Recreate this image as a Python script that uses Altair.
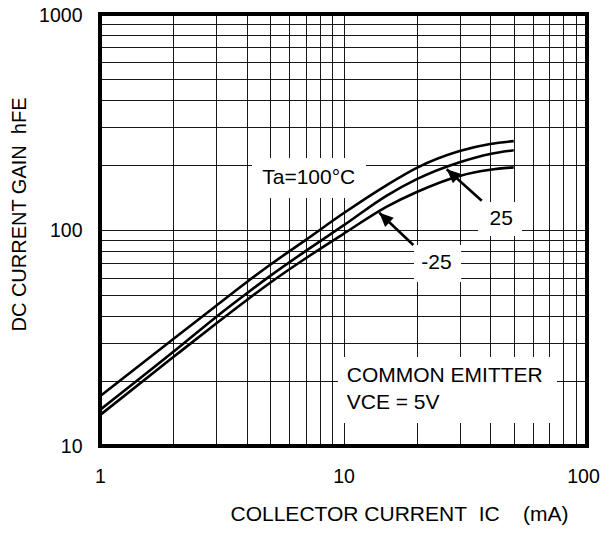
import math
import altair as alt
import pandas as pd

# ---- data ----
ic = [1, 2, 3, 4, 5, 7, 10, 15, 20, 30, 40, 50]
hfe_100 = [17.0, 31.3, 44.6, 57.3, 69, 90, 119.5, 161, 194, 232, 250, 258]
hfe_25 = [14.7, 27.3, 39.6, 50.8, 61.3, 80, 105, 144, 172, 206, 225, 234]
hfe_m25 = [13.9, 25.8, 36.9, 47.3, 57, 74, 96, 128, 150, 178, 190, 195]
series_names = ["100", "25", "-25"]

x_grid = [1, 2, 3, 4, 5, 6, 7, 8, 9, 10, 20, 30, 40, 50, 60, 70, 80, 90, 100]
y_grid = [10, 20, 30, 40, 50, 60, 70, 80, 90, 100, 200, 300, 400, 500, 600, 700, 800, 900, 1000]

# annotation text (data coordinates)
label_text = ["Ta=100°C", "25", "-25"]
label_x = [7.2, 44.4, 24.1]
label_y = [174, 112.4, 70.7]

note_text = ["COMMON EMITTER", "VCE = 5V"]
note_x = [10.31, 10.31]
note_y = [21.2, 15.8]

# white boxes behind labels
box_x1 = [4.21, 35.7, 19.48, 9.49]
box_x2 = [12.37, 54.1, 30.4, 75.3]
box_y1 = [140.6, 93.8, 57.4, 12.78]
box_y2 = [215.4, 134.8, 85.2, 25.8]

# arrows (tail -> tip)
arr_x_tail = [36.96, 19.35]
arr_y_tail = [136.7, 85.2]
arr_x_tip = [26.54, 14.03]
arr_y_tip = [191.0, 120.2]

W, H = 487, 432
FONT = "Liberation Sans"

def px(x):
    return W * math.log10(x) / 2.0

def py(y):
    return H * (1 - math.log10(y / 10.0) / 2.0)

rows = []
for name, vals in zip(series_names, [hfe_100, hfe_25, hfe_m25]):
    for xv, yv in zip(ic, vals):
        rows.append({"x": xv, "y": yv, "s": name})
curves = pd.DataFrame(rows)

labels = pd.DataFrame({"x": label_x, "y": label_y, "t": label_text})
notes = pd.DataFrame({"x": note_x, "y": note_y, "t": note_text})
boxes = pd.DataFrame({"x": box_x1, "x2": box_x2, "y": box_y1, "y2": box_y2})
angles = []
for xt, yt, xp, yp in zip(arr_x_tail, arr_y_tail, arr_x_tip, arr_y_tip):
    dx = px(xp) - px(xt)
    dy = py(yp) - py(yt)
    angles.append(math.degrees(math.atan2(dx, -dy)) % 360)
arrows = pd.DataFrame({"x": arr_x_tail, "y": arr_y_tail, "x2": arr_x_tip, "y2": arr_y_tip})
heads = pd.DataFrame({"x": arr_x_tip, "y": arr_y_tip, "a": angles})

xs = alt.Scale(type="log", domain=[1, 100], nice=False)
ys = alt.Scale(type="log", domain=[10, 1000], nice=False)

xaxis = alt.Axis(
    values=x_grid,
    labelExpr="(datum.value == 1 || datum.value == 10 || datum.value == 100) ? datum.value : ''",
    grid=True, gridColor="#000000", gridWidth=1, gridOpacity=0.9,
    ticks=False, tickSize=0, domain=False,
    labelFont=FONT, labelFontSize=19.5, labelColor="#000000",
    labelPadding=30, labelBaseline="middle", labelFlush=False, labelOverlap=False,
    labelOffset={"condition": {"test": "datum.value == 100", "value": -4}, "value": 0},
    title="COLLECTOR CURRENT\u00a0\u00a0IC\u00a0\u00a0\u00a0\u00a0(mA)",
    titleFont=FONT, titleFontSize=21, titleFontWeight="normal", titleColor="#000000",
    titleX=299, titleY=68, titleAlign="center", titleBaseline="middle",
)
yaxis = alt.Axis(
    values=y_grid,
    labelExpr="(datum.value == 10 || datum.value == 100 || datum.value == 1000) ? datum.value : ''",
    grid=True, gridColor="#000000", gridWidth=1, gridOpacity=0.9,
    ticks=False, tickSize=0, domain=False,
    labelFont=FONT, labelFontSize=19.5, labelColor="#000000",
    labelPadding=18, labelBaseline="middle", labelFlush=False, labelOverlap=False,
    labelOffset={"condition": {"test": "datum.value == 1000", "value": 1}, "value": 0},
    title="DC CURRENT GAIN\u00a0\u00a0hFE",
    titleFont=FONT, titleFontSize=20, titleFontWeight="normal", titleColor="#000000",
    titleX=-81, titleY=200, titleAngle=-90, titleAlign="center", titleBaseline="middle",
)

def X(f="x"):
    return alt.X(f + ":Q", scale=xs, axis=xaxis)

def Y(f="y"):
    return alt.Y(f + ":Q", scale=ys, axis=yaxis)

box_layer = alt.Chart(boxes).mark_rect(fill="white").encode(
    x=X(), x2="x2:Q", y=Y(), y2="y2:Q"
)
line_layer = alt.Chart(curves).mark_line(color="black", strokeWidth=2.6, interpolate="monotone").encode(
    x=X(), y=Y(), detail="s:N"
)
arrow_layer = alt.Chart(arrows).mark_rule(color="black", strokeWidth=2.6).encode(
    x=X(), y=Y(), x2="x2:Q", y2="y2:Q"
)
head_layer = alt.Chart(heads).mark_point(
    shape="M0,0 L-0.45,1 L0.45,1 Z", filled=True, color="black", opacity=1, size=780
).encode(x=X(), y=Y(), angle=alt.Angle("a:Q", scale=None))
label_layer = alt.Chart(labels).mark_text(
    font=FONT, fontSize=21, color="black", align="center", baseline="middle"
).encode(x=X(), y=Y(), text="t:N")
note_layer = alt.Chart(notes).mark_text(
    font=FONT, fontSize=21, color="black", align="left", baseline="middle"
).encode(x=X(), y=Y(), text="t:N")

chart = alt.layer(
    box_layer, line_layer, arrow_layer, head_layer, label_layer, note_layer
).properties(
    width=W, height=H,
    autosize=alt.AutoSizeParams(type="none"),
    padding={"left": 92, "top": 6, "right": 15, "bottom": 79},
    background="white",
).configure_view(stroke="black", strokeWidth=4)

chart.save("out.html", embed_options={"renderer": "svg", "actions": False})
